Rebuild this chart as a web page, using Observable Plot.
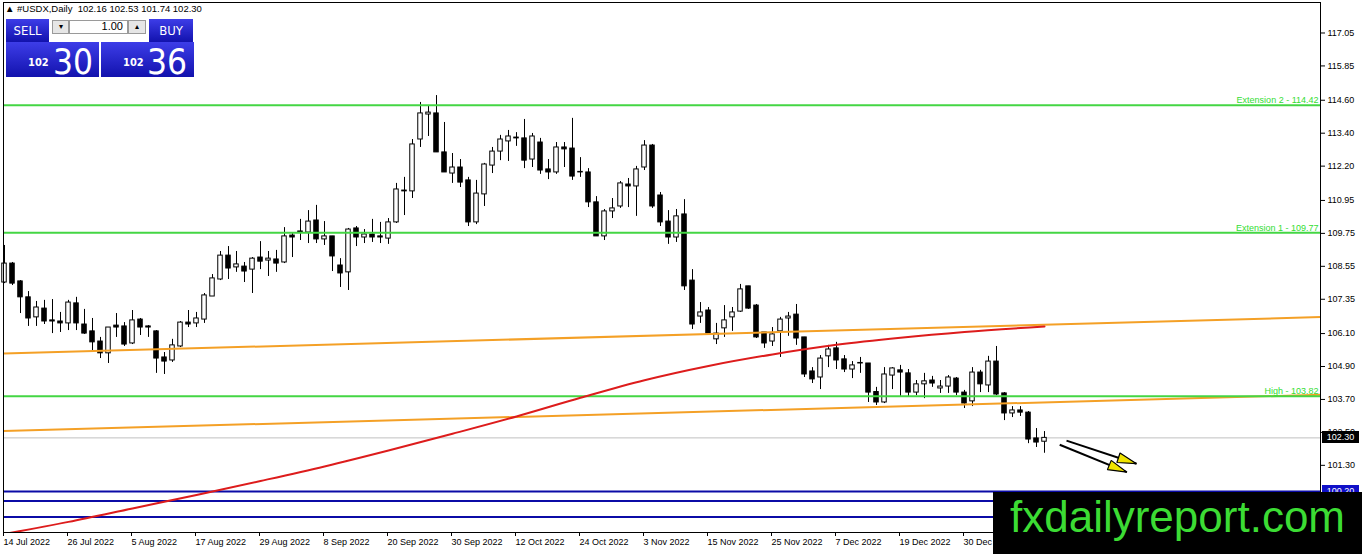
<!DOCTYPE html>
<html><head><meta charset="utf-8">
<script src="https://cdn.jsdelivr.net/npm/d3@7"></script>
<script src="https://cdn.jsdelivr.net/npm/@observablehq/plot@0.6"></script>
<style>
html,body{margin:0;padding:0;background:#fff;}
#wrap{position:relative;width:1362px;height:554px;overflow:hidden;font-family:"Liberation Sans",Arial,sans-serif;}
#wrap svg{position:absolute;left:0;top:0;}
.abs{position:absolute;white-space:pre;}
.hdr{left:5px;top:3px;font-size:9.5px;line-height:12px;color:#000;}
.blue{background:linear-gradient(#3d3de8,#1212ad);color:#fff;}
.btn{text-align:center;font-family:"Liberation Sans Narrow","DejaVu Sans Condensed","Liberation Sans",sans-serif;font-size:13px;line-height:13px;}
.ctl{background:#e6e6e6;border:1px solid #9a9a9a;box-sizing:border-box;font-size:8px;line-height:11px;text-align:center;color:#000;}
.inp{background:#fff;border:1px solid #9a9a9a;box-sizing:border-box;font-size:11px;line-height:11px;text-align:right;padding-right:4px;color:#000;}
.small{font-family:"Liberation Sans Narrow","DejaVu Sans Condensed","Liberation Sans",sans-serif;font-weight:bold;font-size:11px;line-height:11px;color:#fff;}
.big{font-family:"Liberation Sans Narrow","DejaVu Sans Condensed","Liberation Sans",sans-serif;font-size:35px;line-height:35px;color:#fff;}
.tag{left:1322px;width:37px;height:12px;font-size:9px;line-height:12px;color:#fff;text-align:center;}
.logo{left:993px;top:492px;width:369px;height:62px;background:#000;}
.logotext{font-family:"Liberation Sans",Arial,sans-serif;font-size:44px;line-height:44px;color:#3cdc34;}
</style></head>
<body><div id="wrap"></div>
<script>
// ---------- data ----------
const symbolName = "#USDX,Daily";
const headerOHLC = [102.16, 102.53, 101.74, 102.30];

const opens = [107.96,108.65,108.00,107.42,106.69,107.01,106.58,106.54,106.47,107.20,
106.43,106.18,105.81,105.38,106.39,106.36,105.74,106.61,106.36,106.18,
105.23,105.12,105.63,106.50,106.47,106.61,107.45,108.07,108.94,108.51,
108.54,108.43,108.87,108.76,108.80,108.69,109.67,109.82,109.78,110.22,
109.53,109.64,108.58,108.33,109.93,109.60,109.71,109.64,109.56,110.15,
111.31,111.28,113.17,114.08,114.12,112.70,111.93,112.15,111.68,110.15,
111.17,112.22,112.73,113.10,113.24,113.21,112.44,113.06,112.08,111.97,
112.88,112.84,111.99,111.97,110.88,109.64,110.55,110.73,111.53,111.46,
112.15,112.95,111.13,110.18,109.60,110.44,108.03,106.72,106.94,105.89,
106.29,106.69,106.90,107.82,107.12,106.14,105.81,106.18,106.65,106.79,
105.96,104.72,104.50,105.27,105.56,105.16,104.79,105.03,105.01,103.97,
103.59,104.57,104.76,104.65,103.95,104.25,104.39,104.10,104.17,104.46,
103.95,103.63,104.68,104.21,105.08,103.92,103.19,103.30,103.22,102.28,
102.16];
const highs = [109.31,108.69,108.03,107.63,107.27,107.31,107.34,106.87,107.31,107.42,
106.98,106.65,105.96,106.32,106.83,106.50,106.94,106.65,106.39,106.21,
105.41,105.89,106.54,106.94,106.87,107.56,108.25,109.09,109.27,109.09,
108.69,108.87,109.45,109.09,109.13,109.96,109.78,110.26,110.58,110.77,
110.18,109.64,108.83,109.93,110.00,109.89,110.26,110.15,110.29,111.57,
111.79,113.17,114.52,114.41,114.77,113.79,112.66,112.44,111.79,111.68,
112.30,112.88,113.32,113.50,113.42,113.90,113.39,113.21,112.44,113.06,
113.06,113.94,112.51,112.11,111.09,110.62,111.02,111.64,111.75,112.19,
113.13,112.99,111.24,110.58,110.62,110.98,108.43,107.23,107.05,106.47,
107.12,107.05,107.89,107.82,107.16,106.14,106.32,106.69,106.87,107.16,
105.96,104.86,105.30,105.67,105.78,105.30,105.08,105.23,105.01,104.14,
104.86,104.86,104.94,104.79,104.39,104.65,104.54,104.39,104.57,104.50,
104.03,104.86,104.76,105.27,105.63,103.95,103.44,103.44,103.26,102.64,
102.53];
const lows = [107.92,107.85,106.83,106.36,106.36,106.43,106.10,106.14,106.21,106.21,
106.07,105.48,105.19,105.01,105.96,105.63,105.70,106.03,105.96,104.65,
104.61,105.05,105.59,106.32,106.32,106.47,107.45,108.03,108.07,108.33,
107.96,107.56,108.43,108.18,108.33,108.65,108.87,109.49,109.38,109.38,
109.31,108.36,107.78,107.67,109.27,109.38,109.42,109.38,109.35,110.11,
110.40,111.02,112.88,113.28,112.70,111.97,111.57,111.42,110.00,110.07,
110.73,111.93,112.40,112.37,112.92,112.11,112.15,111.90,111.71,111.90,
112.15,111.68,111.79,110.69,109.64,109.49,110.29,110.66,110.69,110.37,
112.04,110.66,110.00,109.35,109.42,107.67,106.25,106.47,106.10,105.70,
105.96,106.18,106.87,106.98,105.92,105.56,105.63,105.23,106.00,105.67,
104.50,104.28,104.06,104.86,104.79,104.68,104.46,104.65,103.59,103.48,
103.55,104.06,103.77,103.77,103.84,103.73,104.14,103.92,103.92,103.84,
103.37,103.44,103.95,103.95,103.84,102.93,103.04,103.08,102.09,101.95,
101.74];
const closes = [108.65,107.92,107.42,106.65,107.05,106.54,106.54,106.47,107.23,106.47,
106.10,105.78,105.38,106.32,106.32,105.70,106.58,106.32,106.32,105.19,
105.08,105.67,106.50,106.43,106.65,107.49,108.11,108.94,108.47,108.62,
108.36,108.83,108.72,108.83,108.65,109.64,109.60,109.78,110.18,109.53,
109.64,108.91,108.29,109.89,109.60,109.71,109.60,109.60,110.15,111.35,
111.28,112.99,114.12,114.15,112.70,111.97,112.15,111.60,110.15,111.20,
112.26,112.73,113.17,113.28,113.21,112.40,113.28,112.04,111.97,112.88,
112.81,111.82,111.97,110.88,109.64,110.55,110.66,111.57,111.46,112.08,
112.95,110.73,110.15,109.60,110.37,107.82,106.43,106.87,106.10,106.10,
106.58,106.87,107.71,107.01,105.96,105.74,106.07,106.61,106.72,105.92,
104.61,104.43,105.19,105.52,105.12,104.79,104.94,105.01,103.95,103.59,
104.61,104.83,104.68,103.95,104.25,104.36,104.28,104.17,104.50,103.95,
103.55,104.68,104.25,105.08,103.88,103.19,103.30,103.22,102.24,102.13,
102.30];

const dateLabelBars = [0,8,16,24,32,40,48,56,64,72,80,88,96,104,112,120];
const dateLabels = ["14 Jul 2022","26 Jul 2022","5 Aug 2022","17 Aug 2022","29 Aug 2022","8 Sep 2022",
"20 Sep 2022","30 Sep 2022","12 Oct 2022","24 Oct 2022","3 Nov 2022","15 Nov 2022","25 Nov 2022",
"7 Dec 2022","19 Dec 2022","30 Dec 2022"];

const priceTicks = [117.05,115.85,114.60,113.40,112.20,110.95,109.75,108.55,107.35,106.10,104.90,103.70,102.50,101.30];

const greenLevels = [114.42, 109.77, 103.82];
const greenNames = ["Extension 2", "Extension 1", "High"];
const blueLevels = [100.35, 100.00, 99.42];
const blueTagText = "100.20";

const maBars = [0,8,16,24,32,40,48,56,64,72,80,88,96,104,112,120,130];
const maValues = [98.80,99.24,99.73,100.22,100.73,101.26,101.84,102.45,103.08,103.76,104.40,104.92,105.34,105.69,105.95,106.16,106.36];

const channelBarStart = [-0.125, -0.125];
const channelBarEnd = [164.5, 164.5];
const channelStart = [105.37, 102.55];
const channelEnd = [106.70, 103.87];

const arrowBarStart = [132.75, 131.9];
const arrowPriceStart = [102.20, 102.05];
const arrowBarEnd = [141.5, 140.3];
const arrowPriceEnd = [101.36, 101.05];

const sellBig = "102", sellSmallDigits = "30";
const buyBig = "102", buySmallDigits = "36";
const lotSize = "1.00";
const logoText = "fxdailyreport.com";

// ---------- build ----------
const bars = opens.map((o, i) => ({i, o, h: highs[i], l: lows[i], c: closes[i]}));
const upBars = bars.filter(d => d.c >= d.o);
const downBars = bars.filter(d => d.c < d.o);
const ma = maBars.map((b, k) => ({b, v: maValues[k]}));
const channels = channelStart.map((v, k) => ({b1: channelBarStart[k], v1: v, b2: channelBarEnd[k], v2: channelEnd[k]}));
const arrows = arrowBarStart.map((b, k) => ({b1: b, v1: arrowPriceStart[k], b2: arrowBarEnd[k], v2: arrowPriceEnd[k]}));
const greens = greenLevels.map((v, k) => ({v, t: `${greenNames[k]} - ${v.toFixed(2)}`}));

function headMarker() {
  const ns = "http://www.w3.org/2000/svg";
  const m = document.createElementNS(ns, "marker");
  m.setAttribute("viewBox", "-22 -8 24 16");
  m.setAttribute("markerWidth", "24");
  m.setAttribute("markerHeight", "16");
  m.setAttribute("markerUnits", "userSpaceOnUse");
  m.setAttribute("orient", "auto");
  m.setAttribute("refX", "0");
  m.setAttribute("refY", "0");
  const p = document.createElementNS(ns, "path");
  p.setAttribute("d", "M-19,-5L0,0L-19,5Z");
  p.setAttribute("fill", "#f0e400");
  p.setAttribute("stroke", "#000");
  p.setAttribute("stroke-width", "1.2");
  m.appendChild(p);
  return m;
}

const W = 0.28;
const chart = Plot.plot({
  width: 1362, height: 554,
  marginLeft: 3, marginRight: 42, marginTop: 2, marginBottom: 22,
  x: {domain: [-0.125, 164.5]},
  y: {domain: [98.853, 118.161]},
  style: {fontFamily: '"Liberation Sans", Arial, sans-serif', fontSize: "9px", color: "#000", background: "#fff", overflow: "visible"},
  marks: [
    Plot.ruleY(blueLevels, {stroke: "#0b0ba6", strokeWidth: 2}),
    Plot.ruleY([headerOHLC[3]], {stroke: "#c0c0c0", strokeWidth: 1}),
    Plot.ruleX(bars, {x: "i", y1: "l", y2: "h", stroke: "#000", strokeWidth: 1}),
    Plot.rect(upBars, {x1: d => d.i - W, x2: d => d.i + W, y1: "o", y2: "c", fill: "#fff", stroke: "#000", strokeWidth: 1}),
    Plot.rect(downBars, {x1: d => d.i - W, x2: d => d.i + W, y1: "o", y2: "c", fill: "#000", stroke: "#000", strokeWidth: 1}),
    Plot.link(channels, {x1: "b1", y1: "v1", x2: "b2", y2: "v2", stroke: "#f4a026", strokeWidth: 2}),
    Plot.ruleY(greenLevels, {stroke: "#44d644", strokeWidth: 2}),
    Plot.text(greens, {y: "v", text: "t", frameAnchor: "right", textAnchor: "end", lineAnchor: "bottom", dx: -2, dy: -2, fill: "#33dd33", fontSize: 9}),
    Plot.line(ma, {x: "b", y: "v", stroke: "#dd1c1c", strokeWidth: 2, curve: "monotone-x", clip: true}),
    Plot.link(arrows, {x1: "b1", y1: "v1", x2: "b2", y2: "v2", stroke: "#000", strokeWidth: 2, markerEnd: headMarker}),
    Plot.frame({stroke: "#000"}),
    Plot.axisX(dateLabelBars, {anchor: "bottom", tickSize: 4, tickPadding: 2, textAnchor: "start", dx: -1,
      tickFormat: d => dateLabels[dateLabelBars.indexOf(d)], label: null}),
    Plot.axisY(priceTicks, {anchor: "right", tickSize: 4, tickPadding: 3, tickFormat: d => d.toFixed(2), label: null})
  ]
});

const wrap = document.getElementById("wrap");
wrap.appendChild(chart);
const ys = chart.scale("y");

function el(cls, styleObj, text) {
  const d = document.createElement("div");
  d.className = "abs " + cls;
  Object.assign(d.style, styleObj);
  if (text != null) d.textContent = text;
  wrap.appendChild(d);
  return d;
}

// header
el("hdr", {}, "\u25B2 " + symbolName + "  " + headerOHLC.map(v => v.toFixed(2)).join(" "));

// trade panel
el("blue btn", {left: "6px", top: "19px", width: "43px", height: "23px", paddingTop: "5px", boxSizing: "border-box"}, "SELL");
el("blue btn", {left: "149px", top: "19px", width: "44px", height: "23px", paddingTop: "5px", boxSizing: "border-box"}, "BUY");
el("ctl", {left: "52px", top: "20px", width: "17px", height: "14px"}, "\u25BE");
el("inp", {left: "69px", top: "20px", width: "59px", height: "14px"}, lotSize);
el("ctl", {left: "128px", top: "20px", width: "18px", height: "14px"}, "\u25B4");
el("blue", {left: "6px", top: "42px", width: "93px", height: "35px"});
el("blue", {left: "101px", top: "42px", width: "93px", height: "35px"});
el("small", {left: "28px", top: "57px"}, sellBig);
el("big", {left: "53px", top: "45px"}, sellSmallDigits);
el("small", {left: "123px", top: "57px"}, buyBig);
el("big", {left: "147px", top: "45px"}, buySmallDigits);

// price tags on axis (they cover part of the neighbouring axis labels, as in the original)
el("tag", {top: (ys.apply(headerOHLC[3]) - 6) + "px", background: "#000"}, headerOHLC[3].toFixed(2));
el("tag", {top: (ys.apply(blueLevels[0]) - 6) + "px", background: "#1010c8"}, blueTagText);

// logo
el("logo", {});
el("logotext", {left: "1010px", top: "495px"}, logoText);
</script>
</body></html>
